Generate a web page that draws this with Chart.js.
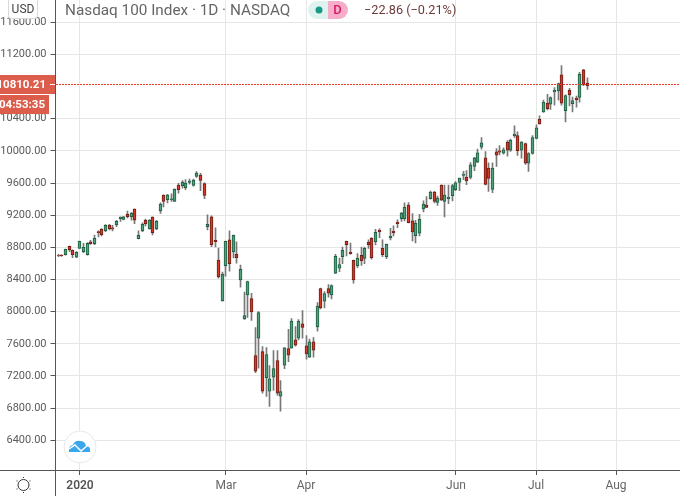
<!DOCTYPE html>
<html><head><meta charset="utf-8">
<style>html,body{margin:0;padding:0;background:#fff}#w{position:relative;width:680px;height:496px}</style>
<script src="https://cdn.jsdelivr.net/npm/chart.js@4/dist/chart.umd.min.js"></script>
</head><body><div id="w"><canvas id="c" width="680" height="496"></canvas></div>
<script>
const opens=[8702,8700,8708,8812,8762,8679,8787,8746,8708,8867,8846,8996,9025,9008,9075,9042,9083,9158,9146,9212,9183,9275,8908,9004,9137,9029,9175,9029,9254,9450,9392,9392,9371,9575,9567,9542,9608,9571,9683,9700,9592,9058,9179,8887,8642,8133,8571,8892,8742,8712,8396,7908,8208,8162,7453,7669,7503,7180,7011,7185,7391,6948,7333,7540,7545,7648,7669,7847,7574,7433,7623,7810,8287,8129,8287,8208,8479,8542,8683,8875,8737,8637,8571,8700,8662,8862,8912,8871,9012,8787,8683,8921,9000,9112,9158,9158,9325,9129,8946,8975,9279,9325,9404,9487,9358,9575,9371,9404,9442,9517,9608,9696,9675,9671,9808,9858,10046,9912,9787,9521,9987,10000,9971,10111,10008,10189,10189,10008,10090,9848,9967,10156,10394,10484,10594,10582,10734,10746,10947,10500,10754,10586,10656,10664,11009,10845];
const closes=[8698,8696,8775,8771,8708,8737,8875,8800,8850,8846,8912,8983,8958,9075,9029,9029,9125,9175,9179,9183,9225,9137,8950,9087,9096,9137,8983,9125,9337,9371,9450,9404,9525,9517,9612,9600,9625,9637,9725,9633,9446,9087,8833,8871,8433,8467,8875,8596,8950,8671,8525,7950,8375,7996,7259,7988,7011,7466,7164,7292,6986,7006,7549,7458,7884,7582,7884,7805,7474,7623,7520,8070,8046,8225,8229,8325,8687,8587,8762,8833,8721,8396,8662,8633,8787,8833,8671,8987,8996,8708,8837,8937,8983,9096,9225,9300,9108,8992,9100,9150,9337,9296,9487,9371,9412,9387,9450,9425,9567,9604,9662,9712,9629,9825,9912,9975,10100,9583,9658,9787,9946,9983,10012,10008,10135,10209,10004,10111,9848,9967,10164,10287,10336,10607,10525,10664,10754,10836,10594,10689,10697,10627,10636,10951,10820,10810.21];
const highs=[8712,8710,8779,8816,8770,8746,8879,8850,8858,8887,8954,9004,9033,9083,9087,9075,9137,9179,9187,9250,9233,9279,9004,9104,9150,9146,9179,9137,9354,9454,9458,9467,9529,9596,9629,9642,9650,9650,9742,9721,9604,9204,9192,9042,8792,8492,8879,9004,8954,8867,8579,8242,8379,8229,7801,8000,7565,7553,7329,7516,7516,7143,7553,7781,7913,7814,7901,8012,7702,7660,7677,8112,8292,8250,8337,8333,8712,8667,8804,8879,8854,8642,8721,8804,8804,8892,8921,9025,9029,8892,8842,9037,9067,9142,9237,9354,9358,9221,9137,9212,9379,9433,9500,9496,9437,9579,9575,9575,9583,9617,9662,9746,9754,9854,9921,10021,10167,9992,9850,9850,10029,10067,10037,10129,10148,10312,10238,10115,10098,9980,10189,10324,10435,10631,10705,10672,10787,10845,11062,10697,10779,10668,10681,10976,11013,10910];
const lows=[8685,8688,8704,8746,8671,8671,8787,8733,8704,8837,8833,8929,8942,8996,9017,9004,9058,9121,9142,9167,9137,9096,8904,8996,9067,9025,8954,9021,9221,9304,9354,9371,9371,9475,9537,9517,9587,9562,9671,9504,9404,9017,8808,8804,8417,8129,8442,8504,8667,8604,8304,7904,7929,7892,7242,7296,6986,6944,6820,7019,6957,6762,7292,7379,7545,7569,7648,7669,7408,7429,7433,7756,8033,8046,8179,8158,8471,8496,8596,8692,8712,8354,8546,8575,8596,8787,8654,8829,8921,8683,8658,8892,8942,9046,9121,9129,9104,8879,8854,8942,9242,9292,9400,9354,9321,9383,9179,9342,9379,9504,9504,9642,9579,9650,9754,9854,10021,9575,9496,9479,9808,9950,9958,9933,9992,10168,9943,9910,9832,9746,9959,10148,10332,10480,10508,10517,10570,10631,10570,10361,10558,10484,10545,10607,10812,10766];
const priceTicks=[6400,6800,7200,7600,8000,8400,8800,9200,9600,10000,10400,11200,11600];
const monthLabels=['2020','Mar','Apr','Jun','Jul','Aug'];
const monthBars=[6,46,68,109,131,153];
const lastPrice=10810.21;
const countdown='04:53:35';
const titleText='Nasdaq 100 Index · 1D · NASDAQ';
const changeText='−22.86 (−0.21%)';

const UP_FILL='#53a07c',UP_LINE='#1c5e40',DN_FILL='#d33a2a',DN_LINE='#6e1d14',WICK='#787878';
const FONT='Roboto';
const barIdx=opens.map((_,i)=>i);
const isUp=barIdx.map(i=>closes[i]>=opens[i]);

const snap={id:'snap',beforeDatasetsDraw(ch){ch.data.datasets.forEach((d,k)=>{ch.getDatasetMeta(k).data.forEach(el=>{el.x=Math.floor(el.x)+0.5;});});}};
const overlay={id:'overlay',afterDraw(ch){
  const c=ch.ctx,ys=ch.scales.y,a=ch.chartArea;
  const py=Math.floor(ys.getPixelForValue(lastPrice)-1)+0.5;
  c.save();
  c.strokeStyle='#e8392b';c.lineWidth=1;c.setLineDash([2,1]);
  c.beginPath();c.moveTo(56,py);c.lineTo(680,py);c.stroke();c.setLineDash([]);
  c.fillStyle='#dc5d4b';c.fillRect(0,py-9.5,55,19);
  c.fillRect(0,py+10.5,49,19);
  c.fillStyle='#fff';c.fillRect(50,py-0.5,5,1);
  c.font='bold 11.5px '+FONT;c.textAlign='right';c.textBaseline='middle';
  c.fillText(lastPrice.toFixed(2),46,py+0.5);
  c.fillText(countdown,45,py+20.5);
  c.fillStyle='#fff';c.strokeStyle='#d8d8d8';c.lineWidth=1;c.beginPath();c.roundRect(8.5,-2.5,29,21,3);c.fill();c.stroke();
  c.fillStyle='#444';c.font='12px '+FONT;c.textAlign='center';c.fillText('USD',23,10);
  c.textAlign='left';c.fillStyle='#666';c.font='15.3px '+FONT;c.fillText(titleText,65,11);
  // status pill
  c.fillStyle='#def3ef';c.beginPath();c.roundRect(308,1,20,18,[9,0,0,9]);c.fill();
  c.fillStyle='#f6adc9';c.beginPath();c.roundRect(328,1,20,18,[0,9,9,0]);c.fill();
  c.fillStyle='#1a9a86';c.beginPath();c.arc(319,10,3.5,0,7);c.fill();
  c.fillStyle='#d81b60';c.font='500 13px '+FONT;c.textAlign='center';c.fillText('D',337.5,10.5);
  c.fillStyle='#6f3a38';c.textAlign='left';c.font='12.7px '+FONT;c.fillText(changeText,364,11);
  // logo
  c.fillStyle='#fff';c.strokeStyle='#e8e8e8';c.lineWidth=1;c.beginPath();c.arc(80,447,16,0,7);c.fill();c.stroke();
  c.fillStyle='#3aa6ee';c.beginPath();c.moveTo(69,452);c.quadraticCurveTo(68,446,73,445);c.quadraticCurveTo(75,440,80,441);c.quadraticCurveTo(85,441,86,446);c.quadraticCurveTo(91,446,90,452);c.closePath();c.fill();
  c.strokeStyle='#fff';c.lineWidth=1.5;c.beginPath();c.moveTo(69,449);c.lineTo(75,445);c.lineTo(81,451);c.lineTo(88,445);c.stroke();
  // settings icon
  c.strokeStyle='#333';c.lineWidth=1;c.beginPath();c.arc(23.5,485,5.5,0,7);c.stroke();
  [[0,-7.5],[0,7.5],[-6.5,-4],[6.5,-4],[-6.5,4],[6.5,4]].forEach(p=>{c.fillStyle='#333';c.fillRect(23+p[0],484.5+p[1],1,1);});
  // axis labels
  c.textBaseline='middle';c.textAlign='center';
  monthLabels.forEach((t,i)=>{c.fillStyle=i==0?'#555':'#666';c.font=(i==0?'600 ':'')+'12px '+FONT;
    c.fillText(t,Math.round(ch.scales.x.getPixelForValue(monthBars[i])),486);});
  c.fillStyle='#555';c.fillRect(55,0,1,496);c.fillRect(0,470,680,1);
  c.restore();
}};

new Chart(document.getElementById('c'),{
  type:'bar',
  data:{datasets:[
    {label:'Range',order:2,barThickness:1,borderSkipped:false,borderWidth:0,
     data:barIdx.map(i=>({x:i,y:[lows[i],highs[i]]})),backgroundColor:WICK},
    {label:'Body',order:1,barThickness:3,borderSkipped:false,borderWidth:1,
     data:barIdx.map(i=>({x:i,y:[opens[i],closes[i]]})),
     backgroundColor:barIdx.map(i=>isUp[i]?UP_FILL:DN_FILL),
     borderColor:barIdx.map(i=>isUp[i]?UP_LINE:DN_LINE)}
  ]},
  plugins:[snap,overlay],
  options:{
    responsive:false,animation:false,devicePixelRatio:1,
    layout:{padding:0,autoPadding:false},
    datasets:{bar:{grouped:false}},
    plugins:{legend:{display:false},tooltip:{enabled:false},title:{display:false}},
    scales:{
      x:{type:'linear',min:-0.71,max:170.4,offset:false,
        afterBuildTicks(s){s.ticks=monthBars.map(v=>({value:v}));},
        afterFit(s){s.height=26;s.paddingLeft=0;s.paddingRight=0;},
        border:{display:false},
        grid:{offset:false,color:'#e6e6e6',lineWidth:1,drawTicks:true,tickLength:5,tickColor:'#555'},
        ticks:{callback:()=>'',maxRotation:0,autoSkip:false,padding:0}},
      y:{type:'linear',min:6030,max:11877,
        afterBuildTicks(s){s.ticks=priceTicks.map(v=>({value:v}));},
        afterFit(s){s.width=55.5;s.paddingTop=0;s.paddingBottom=0;},
        border:{display:false},
        grid:{color:'#e6e6e6',lineWidth:1,tickLength:5,tickColor:'#555'},
        ticks:{autoSkip:false,padding:4,color:'#5a5a5a',font:{family:'Roboto',size:11},
          callback:v=>v.toFixed(2)}}
    }
  }
});
</script></body></html>
